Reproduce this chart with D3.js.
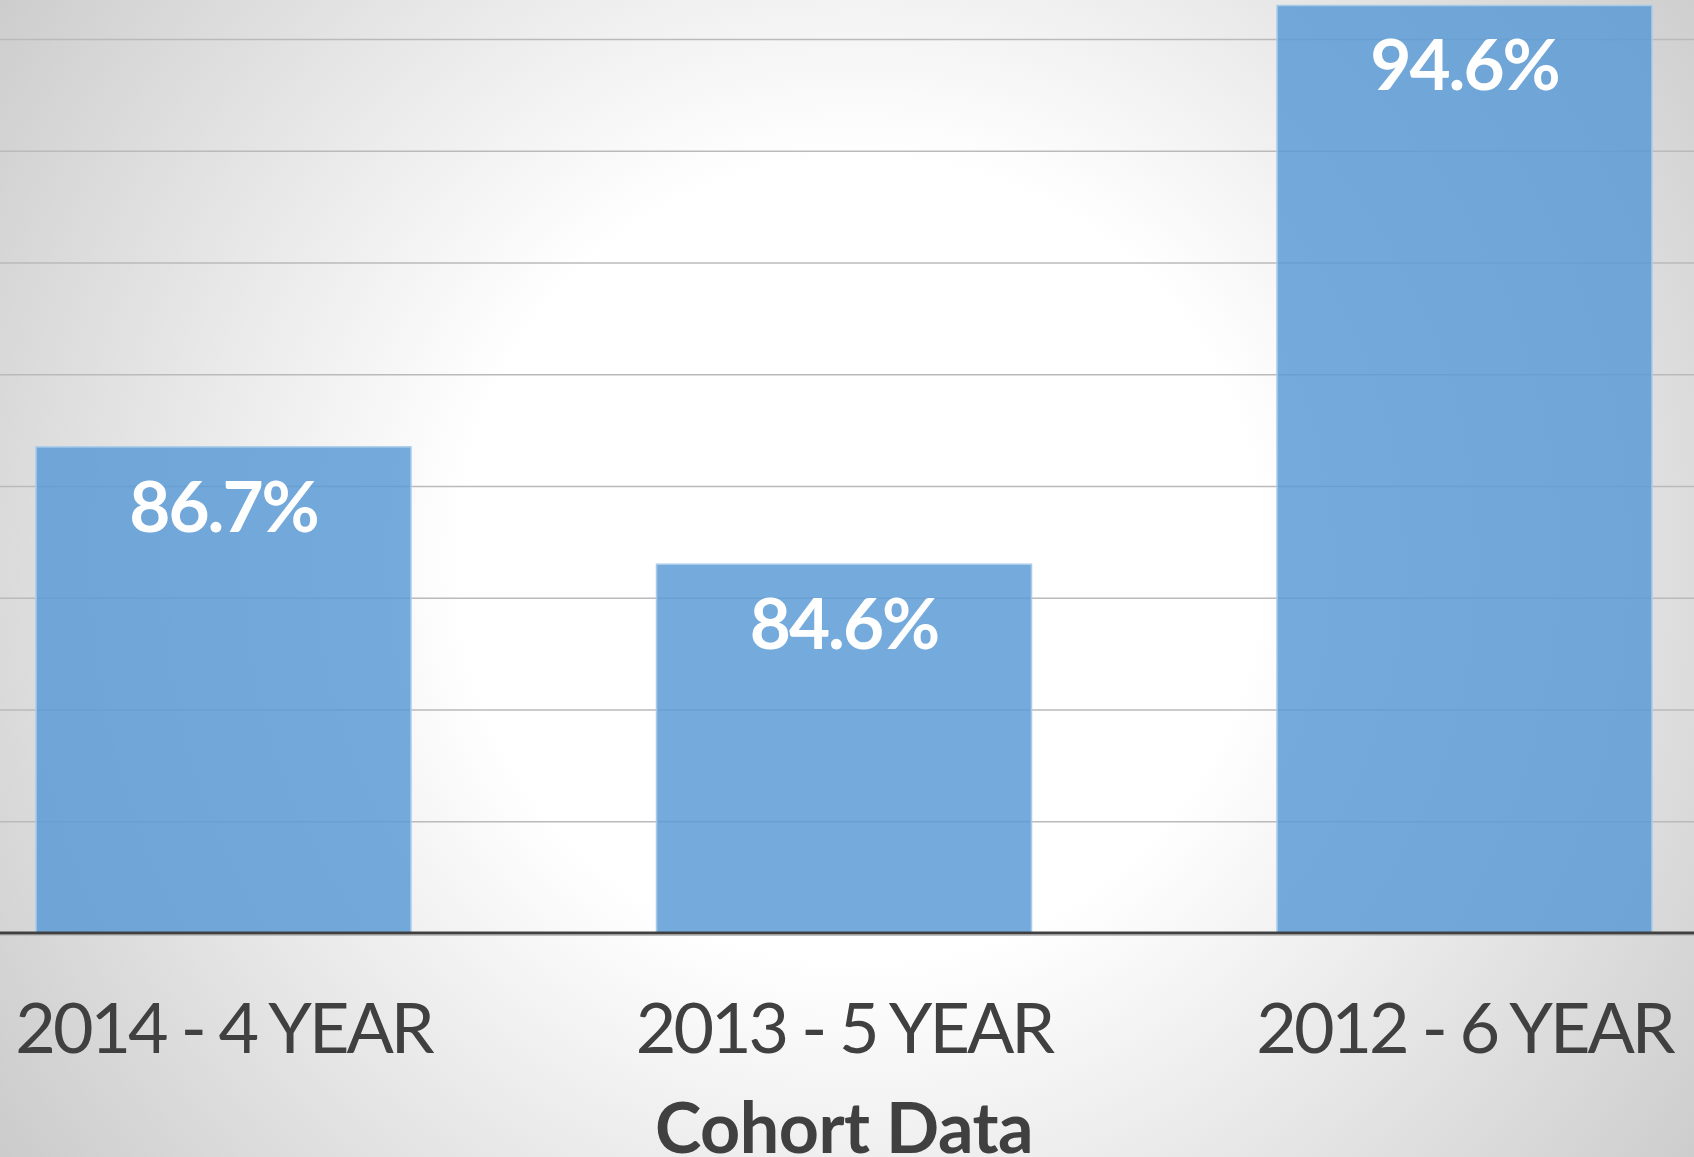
<!DOCTYPE html>
<html>
<head>
<meta charset="utf-8">
<script src="https://cdn.jsdelivr.net/npm/d3@7"></script>
<style>
  html, body { margin: 0; padding: 0; overflow: hidden; background: #fff; }
  svg { display: block; }
</style>
</head>
<body>
<script>
// ---- data ----
const categories = ["2014 - 4 YEAR", "2013 - 5 YEAR", "2012 - 6 YEAR"];
const values = [86.7, 84.6, 94.6];
const valueLabels = ["86.7%", "84.6%", "94.6%"];
const gridValues = [80, 82, 84, 86, 88, 90, 92, 94, 96];
const yDomain = [78, 96];
const axisTitle = "Cohort Data";

const W = 1694, H = 1157;
const svg = d3.select("body").append("svg").attr("width", W).attr("height", H);

// background radial gradient
const defs = svg.append("defs");
const rg = defs.append("radialGradient").attr("id", "bg")
  .attr("gradientUnits", "userSpaceOnUse")
  .attr("cx", 860).attr("cy", 560).attr("r", 1050);
rg.append("stop").attr("offset", "0").attr("stop-color", "#ffffff");
rg.append("stop").attr("offset", "0.38").attr("stop-color", "#ffffff");
rg.append("stop").attr("offset", "1").attr("stop-color", "#cbcbcb");
svg.append("rect").attr("width", W).attr("height", H).attr("fill", "url(#bg)");

// scales
const baseY = 933;
const perPct = 55.875;
const y = d3.scaleLinear().domain(yDomain).range([baseY, baseY - (yDomain[1] - yDomain[0]) * perPct]);
const x = d3.scaleBand().domain(categories)
  .range([-86.75, 1774.75]).paddingInner(0.3957).paddingOuter(0.19785);

// gridlines via axis
const gridAxis = d3.axisLeft(y).tickValues(gridValues).tickSize(-W).tickFormat("");
const g = svg.append("g").attr("transform", "translate(0,0)").call(gridAxis);
g.select(".domain").remove();
g.selectAll(".tick line").attr("stroke", "#bababa").attr("stroke-width", 1.5);

// bars
svg.append("g").selectAll("rect").data(values).join("rect")
  .attr("x", (d, i) => x(categories[i]))
  .attr("y", d => y(d))
  .attr("width", x.bandwidth())
  .attr("height", d => y(yDomain[0]) - y(d))
  .attr("fill", "#5b9bd5").attr("fill-opacity", 0.84)
  .attr("stroke", "#a9cbea").attr("stroke-width", 1.5);

// data labels
svg.append("g").selectAll("text").data(values).join("text")
  .attr("x", (d, i) => x(categories[i]) + x.bandwidth() / 2)
  .attr("y", d => y(d) + 85)
  .attr("text-anchor", "middle")
  .attr("font-family", "Lato, 'Open Sans', sans-serif")
  .attr("font-weight", 700)
  .attr("font-size", 71)
  .attr("letter-spacing", -2)
  .attr("fill", "#ffffff")
  .text((d, i) => valueLabels[i]);

// x axis
const xAxis = d3.axisBottom(x).tickSize(0).tickPadding(0);
const ax = svg.append("g").attr("transform", `translate(0,${baseY})`).call(xAxis);
ax.select(".domain").remove();
ax.selectAll(".tick text")
  .attr("y", 120).attr("dy", 0)
  .attr("font-family", "Lato, 'Open Sans', sans-serif")
  .attr("font-size", 70)
  .attr("letter-spacing", -3)
  .attr("fill", "#404040");

svg.append("line").attr("x1", 0).attr("x2", W).attr("y1", baseY).attr("y2", baseY)
  .attr("stroke", "#404040").attr("stroke-width", 3);
svg.append("line").attr("x1", 0).attr("x2", W).attr("y1", baseY + 2.5).attr("y2", baseY + 2.5)
  .attr("stroke", "#bfbfbf").attr("stroke-width", 1);

// axis title
svg.append("text")
  .attr("x", x(categories[1]) + x.bandwidth() / 2)
  .attr("y", 1153)
  .attr("text-anchor", "middle")
  .attr("font-family", "Lato, 'Open Sans', sans-serif")
  .attr("font-weight", 700)
  .attr("font-size", 70)
  .attr("letter-spacing", -0.5)
  .attr("fill", "#404040")
  .text(axisTitle);
</script>
</body>
</html>
